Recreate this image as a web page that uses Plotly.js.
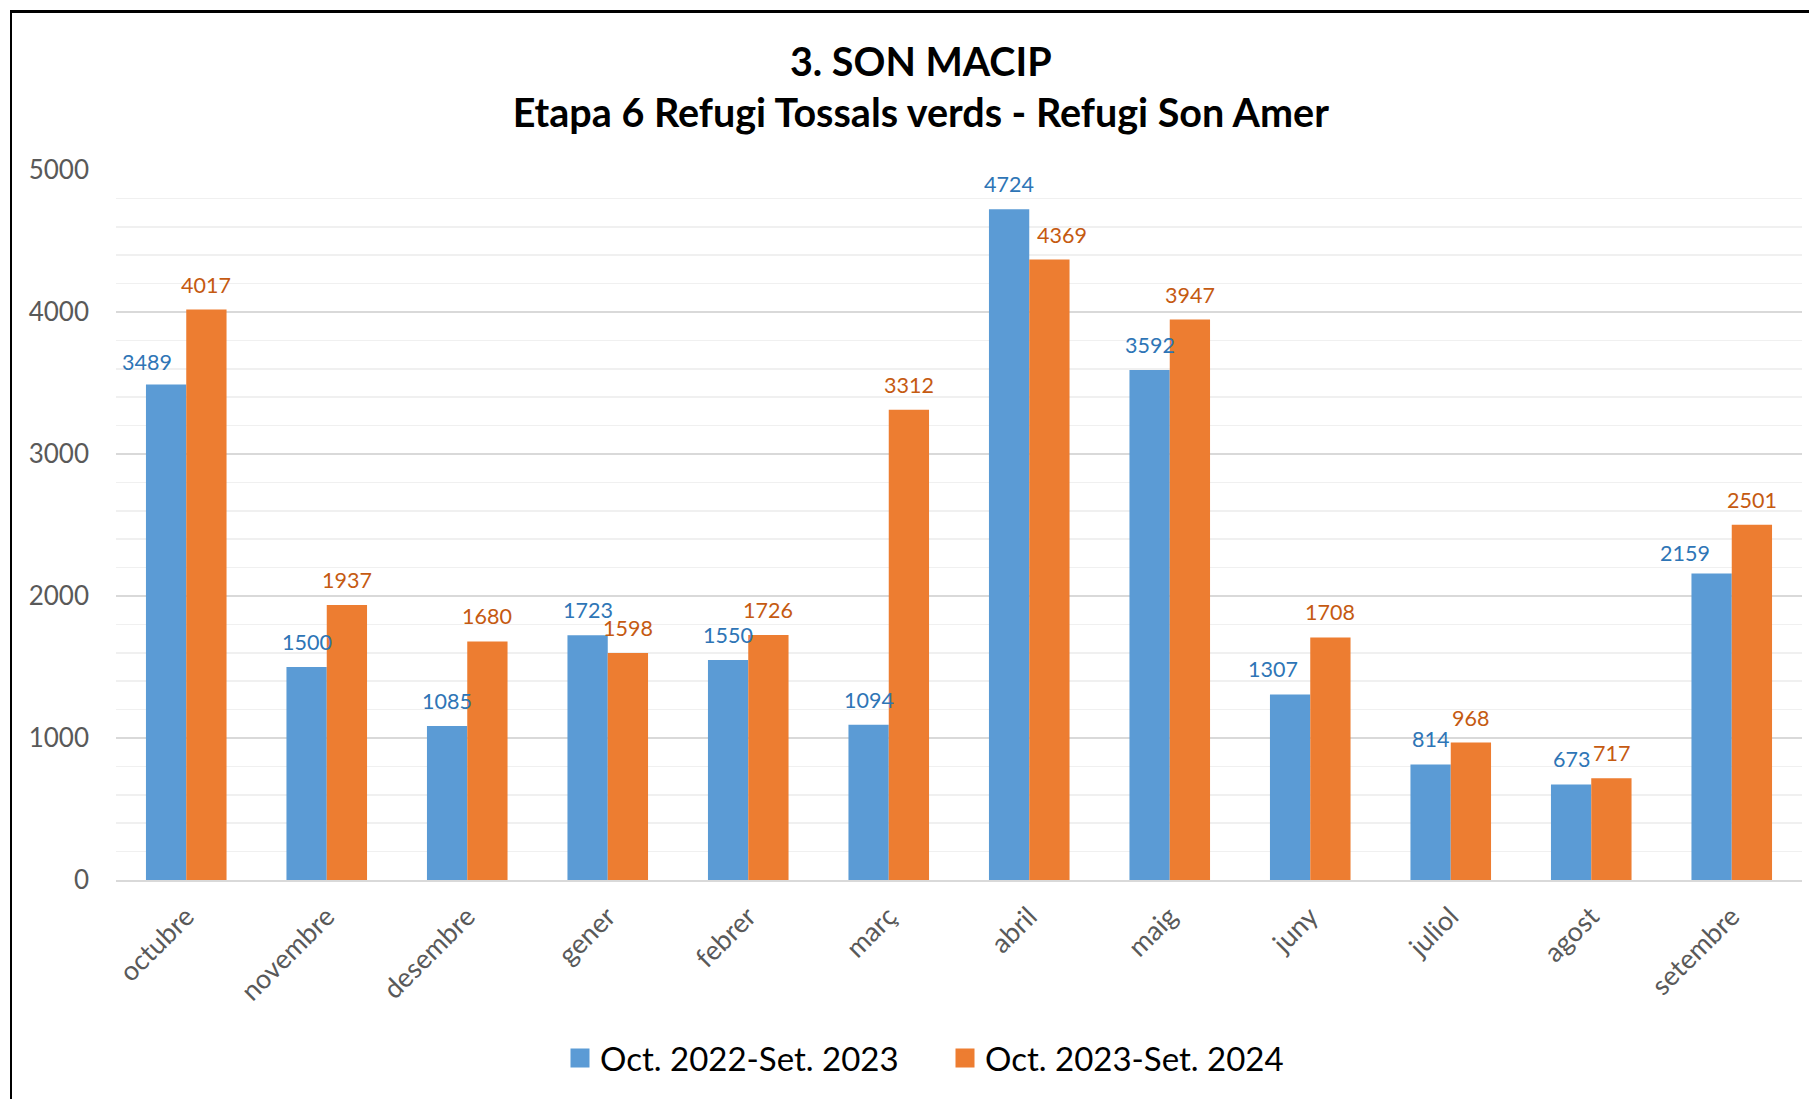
<!DOCTYPE html>
<html>
<head>
<meta charset="utf-8">
<script src="https://cdn.plot.ly/plotly-3.0.1.min.js"></script>
<style>
  html, body { margin: 0; padding: 0; background: #ffffff; }
  #chart { position: absolute; left: 0; top: 0; width: 1809px; height: 1099px; }
  #frame { position: absolute; left: 10px; top: 10px; width: 1820px; height: 1110px;
           border-top: 3px solid #000; border-left: 2.5px solid #000; pointer-events: none; z-index: 10; }
</style>
</head>
<body>
<div id="chart"></div>
<div id="frame"></div>
<script>
// ---- data ----
const months = ["octubre", "novembre", "desembre", "gener", "febrer", "març",
                "abril", "maig", "juny", "juliol", "agost", "setembre"];
const seriesNames = ["Oct. 2022-Set. 2023", "Oct. 2023-Set. 2024"];
const visits2223 = [3489, 1500, 1085, 1723, 1550, 1094, 4724, 3592, 1307, 814, 673, 2159];
const visits2324 = [4017, 1937, 1680, 1598, 1726, 3312, 4369, 3947, 1708, 968, 717, 2501];
const titleText = "3. SON MACIP<br>Etapa 6 Refugi Tossals verds - Refugi Son Amer";

// ---- style ----
const FONT = "Lato, 'Open Sans', sans-serif";
const barColors = ["#5B9BD5", "#ED7D31"];
const labelColors = ["#2E75B6", "#C55A11"];
const BARGAP = 0.4265;
const halfBar = (1 - BARGAP) / 4;     // centre offset of each bar inside its group (category units)
// labels that were moved by hand in the original chart: "series-month" -> [dx, dy] px
const labelNudges = { "0-0": [-19, -2], "1-6": [13, 0], "0-8": [-17, 0], "0-11": [-27, -5] };

const seriesValues = [visits2223, visits2324];
const traces = seriesValues.map((vals, s) => ({
  type: "bar",
  name: seriesNames[s],
  legendgroup: "g" + s,
  showlegend: false,
  x: months,
  y: vals,
  marker: { color: barColors[s] },
  hoverinfo: "x+y+name"
}));
// legend keys (larger square swatches than the default bar key)
seriesValues.forEach((vals, s) => {
  traces.push({
    type: "scatter",
    mode: "markers",
    name: seriesNames[s],
    legendgroup: "g" + s,
    showlegend: true,
    x: [null], y: [null],
    marker: { symbol: "square", size: 16, color: barColors[s], line: { color: barColors[s], width: 3 } },
    hoverinfo: "skip"
  });
});

const annotations = [];
seriesValues.forEach((vals, s) => {
  vals.forEach((v, i) => {
    const n = labelNudges[s + "-" + i] || [0, 0];
    annotations.push({
      x: i + (s === 0 ? -halfBar : halfBar),
      y: v,
      xref: "x", yref: "y",
      text: String(v),
      showarrow: false,
      xanchor: "center", yanchor: "middle",
      xshift: n[0],
      yshift: 25 + n[1],
      font: { family: FONT, size: 21.5, color: labelColors[s] }
    });
  });
});

const layout = {
  width: 1809, height: 1099,
  paper_bgcolor: "rgba(0,0,0,0)",
  plot_bgcolor: "#ffffff",
  margin: { l: 116, r: 7, t: 170, b: 219, pad: 0 },
  barmode: "group",
  bargap: BARGAP,
  bargroupgap: 0,
  title: {
    text: titleText,
    font: { family: FONT, size: 39.5, color: "#000000", weight: "bold" },
    xref: "container", yref: "container",
    x: 0.509, xanchor: "center",
    y: 1 - 76 / 1099, yanchor: "top"
  },
  xaxis: {
    type: "category",
    tickangle: -45,
    tickfont: { family: FONT, size: 27, color: "#595959" },
    showgrid: false,
    showline: true, linecolor: "#D9D9D9", linewidth: 2,
    ticks: "", ticklabelstandoff: 8,
    zeroline: false
  },
  yaxis: {
    range: [0, 5000],
    dtick: 1000,
    tickfont: { family: FONT, size: 26, color: "#595959" },
    showgrid: true, gridcolor: "#D9D9D9", gridwidth: 2,
    minor: { dtick: 200, showgrid: true, gridcolor: "#F0F0F0", gridwidth: 1.5 },
    zeroline: false, showline: false,
    ticks: "", ticklabelstandoff: 26
  },
  legend: {
    orientation: "h",
    xref: "container", yref: "container",
    x: 560 / 1809, xanchor: "left",
    y: 1 - 1058 / 1099, yanchor: "middle",
    font: { family: FONT, size: 33, color: "#000000" },
    entrywidthmode: "pixels", entrywidth: 340,
    itemwidth: 30,
    traceorder: "normal"
  },
  annotations: annotations,
  showlegend: true
};

Plotly.newPlot("chart", traces, layout, { displayModeBar: false, staticPlot: true });
</script>
</body>
</html>
